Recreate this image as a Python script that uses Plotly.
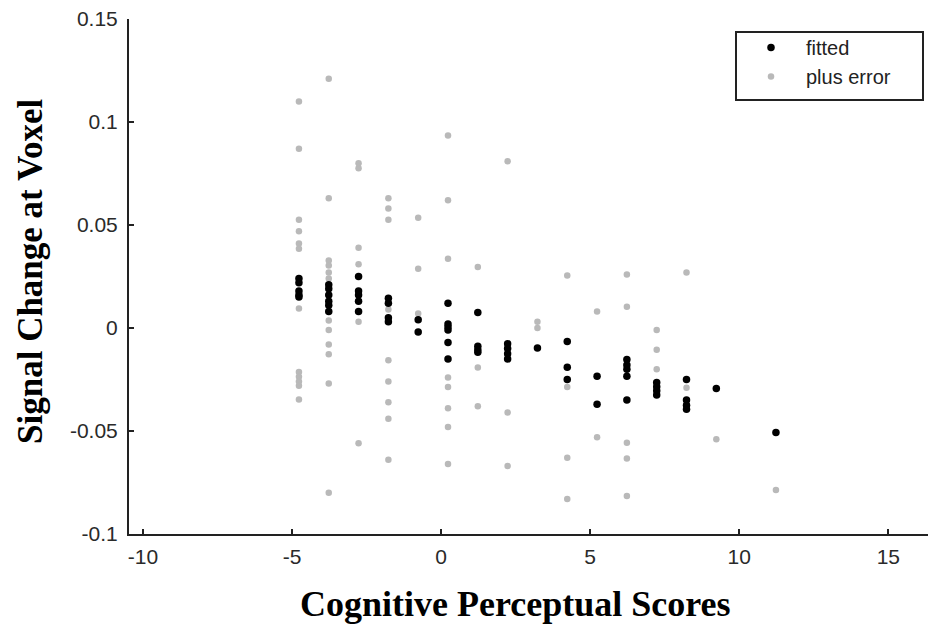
import plotly.graph_objects as go

# ---- data ----
score_cols = [-4.77, -3.77, -2.77, -1.77, -0.77, 0.23, 1.23, 2.23,
              3.23, 4.23, 5.23, 6.23, 7.23, 8.23, 9.23, 11.23]

fitted_by_col = [
    [0.024, 0.022, 0.018, 0.016, 0.015],
    [0.021, 0.019, 0.016, 0.013, 0.011, 0.008],
    [0.025, 0.018, 0.016, 0.013, 0.008],
    [0.0145, 0.012, 0.005, 0.003],
    [0.004, -0.002],
    [0.012, 0.002, 0.0005, -0.001, -0.007, -0.015],
    [0.0075, -0.0088, -0.0105, -0.0118],
    [-0.0076, -0.010, -0.0125, -0.015],
    [-0.0097],
    [-0.0065, -0.019, -0.025],
    [-0.0234, -0.037],
    [-0.0153, -0.018, -0.020, -0.0234, -0.035],
    [-0.0265, -0.0285, -0.0305, -0.0325],
    [-0.025, -0.035, -0.0375, -0.0395],
    [-0.0294],
    [-0.0507],
]

error_by_col = [
    [0.110, 0.087, 0.0525, 0.047, 0.041, 0.0385, 0.0095, -0.0213, -0.0237, -0.026, -0.028, -0.0347],
    [0.121, 0.063, 0.0328, 0.0304, 0.027, 0.024, 0.0037, -0.001, -0.008, -0.0127, -0.027, -0.080],
    [0.080, 0.0775, 0.039, 0.031, 0.003, -0.056],
    [0.063, 0.058, 0.0525, 0.009, -0.0157, -0.026, -0.036, -0.044, -0.064],
    [0.0535, 0.0288, 0.007],
    [0.0934, 0.062, 0.0336, -0.024, -0.0286, -0.039, -0.048, -0.066],
    [0.0296, -0.0192, -0.038],
    [0.081, -0.041, -0.067],
    [0.003, 0.0],
    [0.0255, -0.0286, -0.063, -0.083],
    [0.008, -0.053],
    [0.026, 0.0103, -0.0557, -0.0633, -0.0815],
    [-0.001, -0.0105, -0.020],
    [0.027, -0.029],
    [-0.054],
    [-0.0786],
]

x_ticks = [-10, -5, 0, 5, 10, 15]
x_ticktext = ["-10", "-5", "0", "5", "10", "15"]
y_ticks = [-0.1, -0.05, 0, 0.05, 0.1, 0.15]
y_ticktext = ["-0.1", "-0.05", "0", "0.05", "0.1", "0.15"]

fitted_x = [s for s, col in zip(score_cols, fitted_by_col) for _ in col]
fitted_y = [v for col in fitted_by_col for v in col]
error_x = [s for s, col in zip(score_cols, error_by_col) for _ in col]
error_y = [v for col in error_by_col for v in col]

fig = go.Figure()
fig.add_trace(go.Scatter(
    x=error_x, y=error_y, mode="markers", name="plus error",
    marker=dict(color="#b9b9b9", size=6.5), legendrank=2,
))
fig.add_trace(go.Scatter(
    x=fitted_x, y=fitted_y, mode="markers", name="fitted",
    marker=dict(color="#000000", size=7.5), legendrank=1,
))

W, H = 928, 632
L, R, T, B = 129, 0, 19, 98
pw, ph = W - L - R, H - T - B

def px_to_paper_x(px):
    return (px - L) / pw

def px_to_paper_y(py):
    return (H - B - py) / ph

axis_common = dict(
    automargin=False,
    showgrid=False, zeroline=False, showline=True, linecolor="#222222", linewidth=2,
    ticks="inside", ticklen=5, tickwidth=1.5, tickcolor="#222222",
    tickfont=dict(family="Liberation Sans, Arial, sans-serif", size=21, color="#2a2a2a"),
)

fig.update_layout(
    width=W, height=H,
    margin=dict(l=L, r=R, t=T, b=B, pad=0, autoexpand=False),
    plot_bgcolor="white", paper_bgcolor="white",
    xaxis=dict(range=[-10.47, 16.33], tickvals=x_ticks, ticktext=x_ticktext,
               ticklabelstandoff=3, **axis_common),
    yaxis=dict(range=[-0.1, 0.15], tickvals=y_ticks, ticktext=y_ticktext,
               ticklabelstandoff=5, **axis_common),
    showlegend=True,
    legend=dict(
        x=px_to_paper_x(736), y=px_to_paper_y(28), xanchor="left", yanchor="top",
        bgcolor="rgba(0,0,0,0)", borderwidth=0, itemwidth=60,
        font=dict(family="Liberation Sans, Arial, sans-serif", size=20, color="#222222"),
        tracegroupgap=0,
    ),
    shapes=[dict(
        type="rect", xref="paper", yref="paper",
        x0=px_to_paper_x(736), x1=px_to_paper_x(923),
        y0=px_to_paper_y(100), y1=px_to_paper_y(32),
        line=dict(color="#222222", width=2), fillcolor="rgba(0,0,0,0)", layer="above",
    )],
    annotations=[
        dict(text="<b>Signal Change at Voxel</b>", xref="paper", yref="paper",
             x=px_to_paper_x(30), y=px_to_paper_y(272), xanchor="center", yanchor="middle",
             textangle=-90, showarrow=False,
             font=dict(family="Liberation Serif, Times New Roman, serif", size=35, color="black")),
        dict(text="<b>Cognitive Perceptual Scores</b>", xref="paper", yref="paper",
             x=px_to_paper_x(515), y=px_to_paper_y(604), xanchor="center", yanchor="middle",
             showarrow=False,
             font=dict(family="Liberation Serif, Times New Roman, serif", size=36, color="black")),
    ],
)

fig.write_html(
    "out.html",
    config={"displayModeBar": False},
    post_script="document.body.style.margin='0';document.body.style.overflow='hidden';",
)
